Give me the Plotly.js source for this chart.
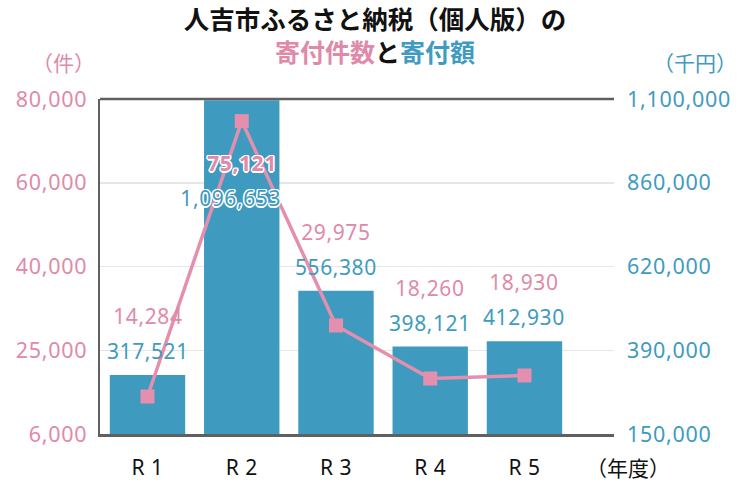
<!DOCTYPE html>
<html>
<head>
<meta charset="utf-8">
<script src="https://cdn.plot.ly/plotly-3.0.1.min.js"></script>
<style>
html,body{margin:0;padding:0;background:#fff;}
#chart{width:738px;height:485px;}
#chart .ytick text, #chart .y2tick text { letter-spacing: 0.7px; }
#chart .annotation-text.num { letter-spacing: 0.6px; }
#chart .xtick text { letter-spacing: 0.5px; }
</style>
</head>
<body>
<div id="chart"></div>
<script>
// ---- data ----
const categories = ['R 1', 'R 2', 'R 3', 'R 4', 'R 5'];
const donationCount = [14284, 75121, 29975, 18260, 18930];        // 寄付件数 (件)
const donationAmount = [317521, 1096653, 556380, 398121, 412930]; // 寄付額 (千円)
const countTickVals = [6000, 24500, 43000, 61500, 80000];
const countTickText = ['6,000', '25,000', '40,000', '60,000', '80,000'];
const amountTickVals = [150000, 387500, 625000, 862500, 1100000];
const amountTickText = ['150,000', '390,000', '620,000', '860,000', '1,100,000'];

// ---- styles ----
const PINK = '#e48fae';
const PINK_TXT = '#e08aa9';
const BLUE = '#3e9bbf';
const BLUE_TXT = '#3f9bc0';
const FONT = '"Noto Sans", "Noto Sans CJK JP", sans-serif';
const JFONT = '"Noto Sans CJK JP", "Noto Sans", sans-serif';
const fmt = v => v.toLocaleString('en-US');
const outline = '1.5px 0 0 #fff, -1.5px 0 0 #fff, 0 1.5px 0 #fff, 0 -1.5px 0 #fff, 1px 1px 0 #fff, -1px -1px 0 #fff, 1px -1px 0 #fff, -1px 1px 0 #fff';

const bars = {
  type: 'bar', x: categories, y: donationAmount, yaxis: 'y',
  marker: {color: BLUE}, width: 0.8, hoverinfo: 'x+y', showlegend: false
};
const line = {
  type: 'scatter', mode: 'lines+markers', x: categories, y: donationCount, yaxis: 'y2',
  line: {color: PINK, width: 3.5},
  marker: {symbol: 'square', size: 14, color: PINK},
  showlegend: false
};

// label offsets (px, from bar top) — layout only
const annotations = [];
categories.forEach((c, i) => {
  const top = i === 1; // R2 bar reaches top: labels drawn inside
  const blueShift = top ? -98 : 24;
  const pinkShift = top ? -63 : 59;
  annotations.push({
    x: c, y: donationAmount[i], xref: 'x', yref: 'y', yshift: blueShift,
    text: fmt(donationAmount[i]), showarrow: false, yanchor: 'middle',
    xshift: top ? -11 : 0, num: true,
    font: {family: FONT, size: 21, color: BLUE_TXT, shadow: top ? outline : 'none'}
  });
  annotations.push({
    x: c, y: donationAmount[i], xref: 'x', yref: 'y', yshift: pinkShift,
    text: top ? '<b>' + fmt(donationCount[i]) + '</b>' : fmt(donationCount[i]),
    showarrow: false, yanchor: 'middle', num: true,
    font: {family: FONT, size: 21, color: PINK_TXT, shadow: top ? outline : 'none'}
  });
});
annotations.push(
  {xref: 'paper', yref: 'paper', x: 375/738, y: 1 - 51/485, xanchor: 'center', yanchor: 'middle',
   text: '<b><span style="color:' + PINK_TXT + '">寄付件数</span>と<span style="color:' + BLUE_TXT + '">寄付額</span></b>',
   showarrow: false, font: {family: JFONT, size: 25, color: '#111'}},
  {xref: 'paper', yref: 'paper', x: 63/738, y: 1 - 62/485, xanchor: 'center', yanchor: 'middle',
   text: '（件）', showarrow: false, font: {family: JFONT, size: 21, color: PINK_TXT}},
  {xref: 'paper', yref: 'paper', x: 695/738, y: 1 - 62/485, xanchor: 'center', yanchor: 'middle',
   text: '（千円）', showarrow: false, font: {family: JFONT, size: 21, color: BLUE_TXT}},
  {xref: 'paper', yref: 'paper', x: 628/738, y: 1 - 467/485, xanchor: 'center', yanchor: 'middle',
   text: '（年度）', showarrow: false, font: {family: JFONT, size: 21, color: '#111'}}
);
// convert annotation pixel-based paper coords to plot-area paper coords
const L = 100, R = 124, T = 99, B = 51, W = 738, H = 485;
annotations.forEach(a => {
  if (a.xref === 'paper') {
    const px = a.x * W, py = (1 - a.y) * H;
    a.x = (px - L) / (W - L - R);
    a.y = 1 - (py - T) / (H - T - B);
  }
});
const numFlags = annotations.map(a => !!a.num);
annotations.forEach(a => delete a.num);

const layout = {
  width: W, height: H,
  margin: {l: L, r: R, t: T, b: B},
  paper_bgcolor: '#fff', plot_bgcolor: '#fff',
  title: {text: '<b>人吉市ふるさと納税（個人版）の</b>', x: 375/738, xanchor: 'center',
          y: 1 - 20/485, yanchor: 'middle', yref: 'container',
          font: {family: JFONT, size: 25.5, color: '#111'}},
  xaxis: {
    type: 'category', categoryorder: 'array', categoryarray: categories,
    range: [-0.504, 4.95], showline: true, linecolor: '#606060', linewidth: 2.5, mirror: false,
    ticks: '', showgrid: false, ticklabelstandoff: 13,
    tickfont: {family: FONT, size: 21, color: '#111'}
  },
  yaxis: {
    side: 'right', range: [150000, 1100000], tickmode: 'array',
    tickvals: amountTickVals, ticktext: amountTickText,
    showgrid: true, gridcolor: '#e6e6e6', gridwidth: 1.5, zeroline: false,
    showline: false, mirror: false, ticks: '', ticklabelstandoff: 12,
    tickfont: {family: FONT, size: 21.5, color: BLUE_TXT}
  },
  yaxis2: {
    side: 'left', overlaying: 'y', range: [6000, 80000], tickmode: 'array',
    tickvals: countTickVals, ticktext: countTickText,
    showgrid: false, zeroline: false, showline: true, mirror: false,
    linecolor: '#606060', linewidth: 2.5,
    ticks: '', ticklabelstandoff: 6,
    tickfont: {family: FONT, size: 21.5, color: PINK_TXT}
  },
  shapes: [
    {type: 'line', xref: 'paper', yref: 'paper', x0: 0, x1: 1, y0: 1, y1: 1,
     line: {color: '#606060', width: 2.5}, layer: 'above'}
  ],
  annotations: annotations,
  showlegend: false
};

Plotly.newPlot('chart', [bars, line], layout, {displayModeBar: false, staticPlot: true}).then(gd => {
  const nodes = gd.querySelectorAll('.annotation');
  nodes.forEach((n, i) => {
    if (numFlags[i]) { const t = n.querySelector('.annotation-text'); if (t) t.classList.add('num'); }
  });
});
</script>
</body>
</html>
